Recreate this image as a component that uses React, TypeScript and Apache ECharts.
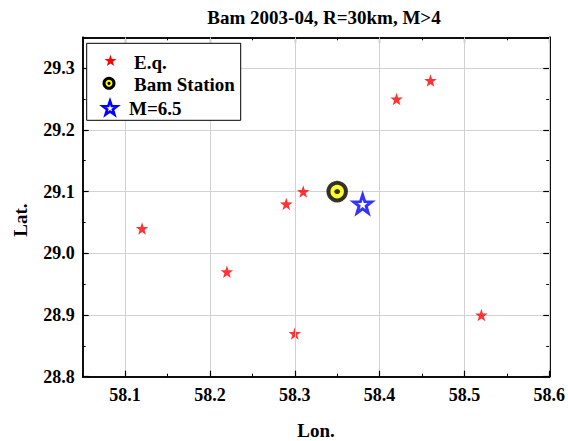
import React, { useEffect, useRef } from "react";
import * as echarts from "echarts";

const title = "Bam 2003-04, R=30km, M>4";
const xName = "Lon.";
const yName = "Lat.";
const eqLon = [58.12, 58.22, 58.29, 58.31, 58.30, 58.42, 58.46, 58.52];
const eqLat = [29.04, 28.97, 29.08, 29.10, 28.87, 29.25, 29.28, 28.90];
const stationLon = [58.35];
const stationLat = [29.10];
const mainLon = [58.38];
const mainLat = [29.08];
const xTicks = [58.1, 58.2, 58.3, 58.4, 58.5, 58.6];
const yTicks = [28.8, 28.9, 29.0, 29.1, 29.2, 29.3];
const legendLabels = ["E.q.", "Bam Station", "M=6.5"];

const STAR = "path://M0,-10 L2.35,-3.24 L9.51,-3.09 L3.8,1.24 L5.88,8.09 L0,4 L-5.88,8.09 L-3.8,1.24 L-9.51,-3.09 L-2.35,-3.24 Z";

function starPoints(cx: number, cy: number, r: number, inner = 0.4) {
  const pts: number[][] = [];
  for (let i = 0; i < 10; i++) {
    const a = -Math.PI / 2 + (i * Math.PI) / 5;
    const rr = i % 2 === 0 ? r : r * inner;
    pts.push([cx + rr * Math.cos(a), cy + rr * Math.sin(a)]);
  }
  return pts;
}

const FONT = "'Liberation Serif', 'Times New Roman', serif";

export default function App() {
  const ref = useRef<HTMLDivElement>(null);
  useEffect(() => {
    const chart = echarts.init(ref.current!, null, { renderer: "svg" });
    const axisLine = { show: true, lineStyle: { color: "#000", width: 1.5 } };
    const labelStyle = { fontFamily: FONT, fontWeight: "bold", fontSize: 18, color: "#000" };
    const gridLine = { show: true, lineStyle: { color: "#d2d2d2", width: 1 } };
    const xRange = { type: "value", min: 58.05, max: 58.6, interval: 0.05, axisLine };
    const yRange = { type: "value", min: 28.8, max: 29.35, interval: 0.05, axisLine };
    const majorTick = (vals: number[]) => ({
      show: true,
      inside: true,
      length: 6,
      customValues: vals,
      lineStyle: { color: "#000", width: 1.2 },
    });
    const minorTick = { show: true, inside: true, length: 3, lineStyle: { color: "#000", width: 1 } };

    chart.setOption({
      animation: false,
      backgroundColor: "#fff",
      grid: { left: 82.7, right: 17.3, top: 37.3, bottom: 64.3 },
      xAxis: [
        {
          ...xRange,
          position: "bottom",
          axisTick: majorTick(xTicks),
          axisLabel: { ...labelStyle, margin: 9, customValues: xTicks, formatter: (v: number) => v.toFixed(1) },
          splitLine: gridLine,
          z: 5,
        },
        { ...xRange, position: "bottom", axisTick: minorTick, axisLabel: { show: false }, splitLine: { show: false } },
        { ...xRange, position: "top", axisTick: majorTick(xTicks), axisLabel: { show: false }, splitLine: { show: false } },
        { ...xRange, position: "top", axisTick: minorTick, axisLabel: { show: false }, splitLine: { show: false } },
      ],
      yAxis: [
        {
          ...yRange,
          position: "left",
          axisTick: majorTick(yTicks),
          axisLabel: { ...labelStyle, margin: 8, customValues: yTicks, formatter: (v: number) => v.toFixed(1) },
          splitLine: gridLine,
        },
        { ...yRange, position: "left", axisTick: minorTick, axisLabel: { show: false }, splitLine: { show: false } },
        { ...yRange, position: "right", axisTick: majorTick(yTicks), axisLabel: { show: false }, splitLine: { show: false } },
        { ...yRange, position: "right", axisTick: minorTick, axisLabel: { show: false }, splitLine: { show: false } },
      ],
      series: [
        {
          type: "scatter",
          name: legendLabels[0],
          symbol: STAR,
          symbolSize: 12.5,
          itemStyle: { color: "#ff0000" },
          data: eqLon.map((x, i) => [x, eqLat[i]]),
        },
        {
          type: "scatter",
          name: legendLabels[1],
          symbol: "circle",
          symbolSize: 17.5,
          itemStyle: { color: "#ffff00", borderColor: "#000", borderWidth: 4 },
          data: stationLon.map((x, i) => [x, stationLat[i]]),
        },
        {
          type: "scatter",
          symbol: "circle",
          symbolSize: [6, 5],
          itemStyle: { color: "#000" },
          data: stationLon.map((x, i) => [x, stationLat[i]]),
        },
        {
          type: "scatter",
          name: legendLabels[2],
          symbol: STAR,
          symbolSize: 18,
          itemStyle: { color: "#fff", borderColor: "#0000ff", borderWidth: 3 },
          data: mainLon.map((x, i) => [x, mainLat[i]]),
        },
      ],
      graphic: [
        {
          type: "text",
          x: 324,
          y: 17,
          style: { text: title, fontFamily: FONT, fontWeight: "bold", fontSize: 19, fill: "#000", align: "center", verticalAlign: "middle" },
        },
        {
          type: "text",
          x: 316,
          y: 430,
          style: { text: xName, fontFamily: FONT, fontWeight: "bold", fontSize: 19, fill: "#000", align: "center", verticalAlign: "middle" },
        },
        {
          type: "text",
          x: 20,
          y: 220,
          rotation: Math.PI / 2,
          style: { text: yName, fontFamily: FONT, fontWeight: "bold", fontSize: 19, fill: "#000", align: "center", verticalAlign: "middle" },
        },
        {
          type: "rect",
          shape: { x: 86.7, y: 43.3, width: 154, height: 77 },
          style: { fill: "#fff", stroke: "#000", lineWidth: 1 },
          z: 100,
        },
        {
          type: "polygon",
          shape: { points: starPoints(110.5, 61, 6.3) },
          style: { fill: "#ff0000" },
          z: 101,
        },
        {
          type: "circle",
          shape: { cx: 109, cy: 83.3, r: 5 },
          style: { fill: "#ffff00", stroke: "#000", lineWidth: 3 },
          z: 101,
        },
        {
          type: "circle",
          shape: { cx: 109, cy: 83.3, r: 1.6 },
          style: { fill: "#000" },
          z: 102,
        },
        {
          type: "polygon",
          shape: { points: starPoints(110, 108.5, 7.5) },
          style: { fill: "#fff", stroke: "#0000ff", lineWidth: 2.6 },
          z: 101,
        },
        {
          type: "text",
          x: 134,
          y: 62,
          style: { text: legendLabels[0], fontFamily: FONT, fontWeight: "bold", fontSize: 19, fill: "#000", verticalAlign: "middle" },
          z: 101,
        },
        {
          type: "text",
          x: 134,
          y: 84,
          style: { text: legendLabels[1], fontFamily: FONT, fontWeight: "bold", fontSize: 19, fill: "#000", verticalAlign: "middle" },
          z: 101,
        },
        {
          type: "text",
          x: 129,
          y: 108.5,
          style: { text: legendLabels[2], fontFamily: FONT, fontWeight: "bold", fontSize: 19, fill: "#000", verticalAlign: "middle" },
          z: 101,
        },
      ],
    });
    return () => chart.dispose();
  }, []);
  return <div ref={ref} style={{ width: 568, height: 441, position: "absolute", left: 0, top: 0 }} />;
}
